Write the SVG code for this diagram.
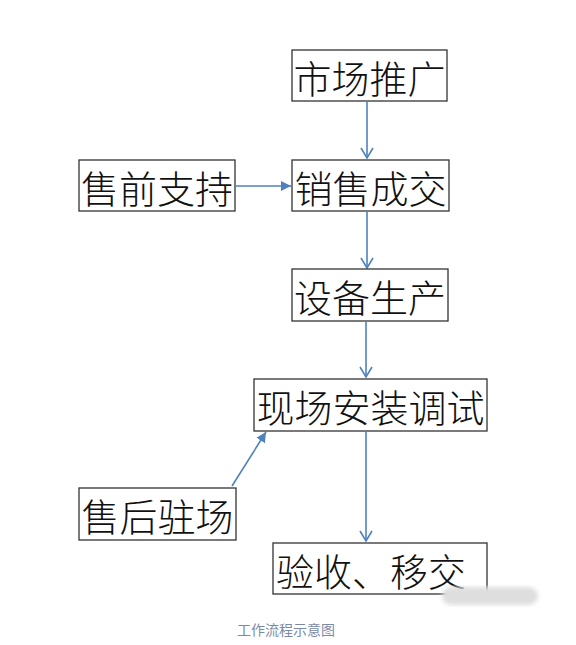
<svg xmlns="http://www.w3.org/2000/svg" width="576" height="645" viewBox="0 0 576 645">
<style>
.box{fill:#fff;stroke:#333;stroke-width:1.3}
.t{font-family:"Noto Sans CJK SC","Noto Sans CJK JP",sans-serif;font-size:38px;font-weight:300;fill:#111;text-anchor:middle;dominant-baseline:central}
.c{stroke:#4f81bd;stroke-width:1.6;fill:none}
.cap{font-family:"Noto Sans CJK SC",sans-serif;font-size:14px;fill:#7a8aa6;text-anchor:middle}
</style>
<defs>
<marker id="open" markerWidth="14" markerHeight="14" refX="11" refY="7" orient="auto" markerUnits="userSpaceOnUse">
<path d="M1,1 L11,7 L1,13" fill="none" stroke="#4f81bd" stroke-width="1.6"/>
</marker>
<marker id="fill" markerWidth="12" markerHeight="12" refX="10" refY="6" orient="auto" markerUnits="userSpaceOnUse">
<path d="M0,1 L10,6 L0,11 Z" fill="#4f81bd"/>
</marker>
<filter id="blur"><feGaussianBlur stdDeviation="2"/></filter>
</defs>
<rect width="576" height="645" fill="#fff"/>
<g id="connectors">
<line class="c" x1="367" y1="102" x2="367" y2="158" marker-end="url(#open)"/>
<line class="c" x1="236" y1="186" x2="291" y2="186" marker-end="url(#fill)"/>
<line class="c" x1="367" y1="212" x2="367" y2="268" marker-end="url(#open)"/>
<line class="c" x1="366" y1="322" x2="366" y2="377" marker-end="url(#open)"/>
<line class="c" x1="232" y1="486" x2="266" y2="432" marker-end="url(#fill)"/>
<line class="c" x1="366" y1="432" x2="366" y2="541" marker-end="url(#open)"/>
</g>
<g id="n1"><rect class="box" x="292" y="50" width="155" height="51"/><text class="t" x="369.5" y="76">市场推广</text></g>
<g id="n2"><rect class="box" x="292" y="160" width="157" height="51"/><text class="t" x="370.5" y="186">销售成交</text></g>
<g id="n3"><rect class="box" x="79" y="160" width="156" height="51"/><text class="t" x="157" y="186">售前支持</text></g>
<g id="n4"><rect class="box" x="292" y="269" width="156" height="52"/><text class="t" x="370" y="295">设备生产</text></g>
<g id="n5"><rect class="box" x="254" y="379" width="233" height="52"/><text class="t" x="370.5" y="405">现场安装调试</text></g>
<g id="n6"><rect class="box" x="79" y="488" width="157" height="52"/><text class="t" x="157.5" y="514">售后驻场</text></g>
<g id="n7"><rect class="box" x="273" y="543" width="214" height="51"/><text class="t" x="371" y="569">验收、移交</text></g>
<rect x="442" y="587" width="96" height="18" rx="9" fill="#dedede" filter="url(#blur)"/>
<text class="cap" x="286" y="635">工作流程示意图</text>
</svg>
